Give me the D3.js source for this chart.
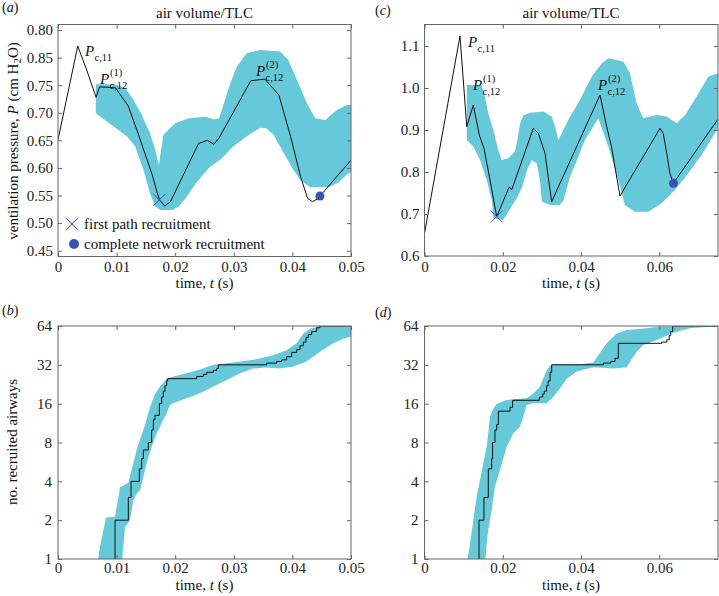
<!DOCTYPE html>
<html>
<head>
<meta charset="utf-8">
<script src="https://cdn.jsdelivr.net/npm/d3@7"></script>
<style>
  body { margin: 0; background: #fff; }
  svg { display: block; font-family: "Liberation Serif", "Times New Roman", serif; }
</style>
</head>
<body>
<svg id="chart" width="719" height="596"></svg>
<script>
// ---- panel (a): pressure vs time, [t (s), P]
const lineA = [[0,0.651],[0.00337,0.821],[0.0049,0.7775],[0.0065,0.728],[0.0071,0.747],[0.0098,0.7454],
  [0.012,0.712],[0.01375,0.66],[0.016,0.59],[0.0173,0.542],[0.0182,0.531],[0.0192,0.539],[0.024,0.6446],
  [0.0255,0.65],[0.0266,0.643],[0.02745,0.6537],[0.0329,0.758],[0.0353,0.761],[0.0377,0.732],[0.0397,0.6566],
  [0.0414,0.584],[0.0426,0.5449],[0.0434,0.5388],[0.0443,0.5437],[0.0447,0.549],[0.05,0.614]];
const bandUpperA = [[0.00645,0.7516],[0.0098,0.7516],[0.0115,0.745],[0.0129,0.723],[0.0143,0.696],[0.0157,0.663],
  [0.0166,0.6325],[0.0172,0.605],[0.018,0.66],[0.02,0.681],[0.0223,0.69],[0.0252,0.693],[0.0266,0.688],
  [0.0275,0.69],[0.0283,0.717],[0.0294,0.753],[0.0305,0.7835],[0.0322,0.808],[0.0345,0.8137],[0.0379,0.811],
  [0.0393,0.7956],[0.0408,0.759],[0.0425,0.717],[0.0439,0.69],[0.0456,0.687],[0.0476,0.705],[0.0493,0.714],[0.05,0.714]];
const bandLowerA = [[0.00645,0.699],[0.008,0.687],[0.0103,0.669],[0.0118,0.657],[0.0132,0.6385],[0.0146,0.596],
  [0.0157,0.554],[0.0166,0.53],[0.0175,0.5237],[0.0195,0.5237],[0.0206,0.53],[0.0218,0.545],[0.0235,0.572],
  [0.0258,0.601],[0.0277,0.615],[0.03,0.64],[0.0323,0.658],[0.0345,0.673],[0.0355,0.672],[0.0368,0.66],
  [0.0385,0.627],[0.0402,0.596],[0.0413,0.579],[0.043,0.565],[0.0462,0.565],[0.0478,0.573],[0.0493,0.588],[0.05,0.592]];
const firstPathA = [0.0173, 0.542];
const completeA = [0.0447, 0.549];

// ---- panel (c): pressure vs time
const lineC = [[0,0.654],[0.00907,1.124],[0.0108,0.908],[0.01247,0.9595],[0.014,0.888],[0.0152,0.8564],
  [0.01674,0.781],[0.01845,0.6937],[0.0206,0.741],[0.02167,0.7647],[0.0223,0.758],[0.0278,0.904],[0.0291,0.892],
  [0.0308,0.8445],[0.0316,0.789],[0.0325,0.7293],[0.04485,0.9833],[0.04655,0.908],[0.0478,0.86],[0.0485,0.8207],
  [0.04995,0.7429],[0.06018,0.904],[0.061,0.892],[0.0619,0.8445],[0.0627,0.797],[0.0636,0.773],[0.075,0.926]];
const bandUpperC = [[0.0108,1.007],[0.0146,1.007],[0.01545,0.979],[0.0163,0.94],[0.0176,0.9],[0.01886,0.852],
  [0.0197,0.8286],[0.0214,0.8325],[0.0231,0.848],[0.0238,0.88],[0.0244,0.915],[0.0253,0.935],[0.027,0.941],
  [0.0304,0.944],[0.0325,0.932],[0.0334,0.908],[0.0342,0.876],[0.0351,0.892],[0.0372,0.932],[0.0393,0.9636],
  [0.041,0.995],[0.0427,1.027],[0.0453,1.059],[0.047,1.071],[0.0508,1.063],[0.0525,1.035],[0.0542,0.9636],
  [0.0559,0.928],[0.0593,0.936],[0.0619,0.932],[0.0644,0.916],[0.0666,0.936],[0.07,0.987],[0.0725,1.027],[0.075,1.035]];
const bandLowerC = [[0.0108,0.876],[0.0125,0.86],[0.0142,0.8286],[0.0159,0.781],[0.0172,0.733],[0.0176,0.69],
  [0.0201,0.686],[0.0214,0.7055],[0.0236,0.738],[0.025,0.765],[0.0262,0.805],[0.0274,0.8286],[0.0287,0.82],
  [0.0295,0.781],[0.03,0.729],[0.0321,0.7214],[0.0346,0.7214],[0.0355,0.733],[0.0372,0.789],[0.0393,0.836],
  [0.041,0.876],[0.0444,0.928],[0.047,0.86],[0.0495,0.781],[0.0512,0.7214],[0.0538,0.7055],[0.0572,0.7055],
  [0.0606,0.7255],[0.064,0.757],[0.0674,0.797],[0.0708,0.8405],[0.0742,0.892],[0.075,0.905]];
const firstPathC = [0.01845, 0.694];
const completeC = [0.0636, 0.773];

// ---- panel (b): recruited airways vs time, [t (s), N]
const stepsB = [[0.00973,1],[0.00973,2],[0.012,3],[0.01246,4],[0.01388,5],[0.01428,6],[0.01456,7],[0.01541,8],
  [0.01598,10],[0.01627,12],[0.01655,13],[0.01729,16],[0.01769,18],[0.01797,20],[0.01826,22],[0.01855,24],
  [0.01871,25],[0.02367,26],[0.0248,27],[0.02537,28],[0.0265,29],[0.02708,30],[0.02736,32],[0.03561,33],
  [0.03732,34],[0.03817,35],[0.03902,37],[0.03988,40],[0.04073,42],[0.0413,45],[0.04187,48],[0.04232,52],
  [0.04271,55],[0.04329,58],[0.04414,62],[0.04471,64],[0.05,64]];
const bandUpperB = [[0.00671,0.9],[0.00717,1.25],[0.00819,2.1],[0.00973,2.13],[0.0103,3.0],[0.0106,3.6],
  [0.012,3.9],[0.01285,5.5],[0.01342,7],[0.01399,8.4],[0.01485,11],[0.0157,15],[0.01655,19],[0.0174,21.6],
  [0.01855,25],[0.01968,26],[0.02196,27.5],[0.02423,29.5],[0.02651,32],[0.0299,33.3],[0.03333,35],[0.03674,38],
  [0.03902,41.5],[0.04073,47],[0.04187,56],[0.043,61],[0.04471,64],[0.05,64]];
const bandLowerB = [[0.01087,0.9],[0.01115,1.25],[0.01143,1.78],[0.01171,1.83],[0.01228,2.0],[0.01285,2.86],
  [0.01342,3.2],[0.01399,3.4],[0.01456,4.35],[0.01513,5.5],[0.01598,7.4],[0.01684,9.4],[0.0174,10.6],
  [0.01797,12],[0.01855,13.5],[0.01911,15.6],[0.01968,16.2],[0.02196,17.6],[0.02423,19.3],[0.02651,21.7],
  [0.02878,24.4],[0.03106,27.5],[0.03333,30],[0.03561,30.5],[0.03788,30],[0.04016,31],[0.04243,34],
  [0.04471,40.5],[0.04698,47],[0.04869,51],[0.05,53]];

// ---- panel (d): recruited airways vs time
const stepsD = [[0.01393,1],[0.01393,2],[0.0152,3],[0.0163,5],[0.01717,6],[0.0174,8],[0.018,10],[0.01845,11],
  [0.01887,14],[0.02185,15],[0.02253,17],[0.02934,18],[0.0302,19],[0.0306,20],[0.0312,22],[0.0316,24],
  [0.0321,28],[0.0325,32],[0.0457,33],[0.0476,34],[0.0487,36],[0.04953,47],[0.0606,48],[0.0619,50],
  [0.06256,54],[0.06291,58],[0.06342,64],[0.075,64]];
const bandUpperD = [[0.0108,0.9],[0.01163,1.32],[0.01248,2],[0.01333,3.04],[0.01418,4.1],[0.01503,5.5],
  [0.01589,7.4],[0.01674,12.7],[0.01758,14.7],[0.01845,15.9],[0.021,17.1],[0.02611,17.6],[0.0278,19.2],
  [0.02951,21.7],[0.03122,29],[0.0325,32.4],[0.03973,32.4],[0.04313,33.3],[0.04656,47],[0.04911,56],
  [0.05167,59.5],[0.05678,61.5],[0.06018,63.3],[0.075,64]];
const bandLowerD = [[0.01546,0.9],[0.01589,1.32],[0.0163,1.68],[0.01717,2.4],[0.018,3.64],[0.01929,4.9],
  [0.021,7.4],[0.02269,9.4],[0.0244,10.6],[0.02525,12.7],[0.02611,15.6],[0.0278,16.1],[0.03122,16.1],
  [0.0329,18],[0.03462,21],[0.03633,25],[0.03889,28.4],[0.04313,30.6],[0.04825,30],[0.05167,30.6],
  [0.05251,33.7],[0.05422,40.5],[0.05592,45.5],[0.05933,49.8],[0.06358,56.7],[0.06784,61.5],[0.072,63],[0.075,63.5]];

// ---- ticks
const xTicksA = [0, 0.01, 0.02, 0.03, 0.04, 0.05];
const xTicksC = [0, 0.02, 0.04, 0.06];
const yTicksA = [0.45, 0.50, 0.55, 0.60, 0.65, 0.70, 0.75, 0.80, 0.85];
const yTickLabelsA = ["0.45", "0.50", "0.55", "0.60", "0.65", "0.70", "0.75", "0.85", "0.80"];
const yTicksC = [0.6, 0.7, 0.8, 0.9, 1.0, 1.1];
const yTicksLog = [1, 2, 4, 8, 16, 32, 64];

const svg = d3.select("#chart");
const bandColor = "#66c9d9";
const frameColor = "#666";
const markerColor = "#3a52b4";

const xFmt = d => d === 0 ? "0" : d3.format(".2f")(d);

// Draws the boxed frame with inward ticks on all four sides
function drawFrame(id, x, y, xTicks, xFormat, yTicks, yFormat, yPad, xPad) {
  const [l, r] = x.range();
  const [b, t] = y.range();
  const g = svg.append("g").attr("id", id);

  g.append("clipPath").attr("id", "clip-" + id)
    .append("rect").attr("x", l).attr("y", t).attr("width", r - l).attr("height", b - t);

  const plot = g.append("g").attr("clip-path", `url(#clip-${id})`);

  const axes = g.append("g").attr("font-size", 15).attr("font-family", "Liberation Serif, serif");
  const style = sel => {
    sel.select(".domain").remove();
    sel.selectAll(".tick line").attr("stroke", frameColor);
    sel.selectAll("text").attr("fill", "#222").attr("font-family", "Liberation Serif, serif").attr("font-size", 15);
  };
  axes.append("g").attr("transform", `translate(0,${b})`)
    .call(d3.axisBottom(x).tickValues(xTicks).tickSize(-4).tickPadding(xPad).tickFormat(xFormat)).call(style);
  axes.append("g").attr("transform", `translate(0,${t})`)
    .call(d3.axisTop(x).tickValues(xTicks).tickSize(-4).tickFormat("")).call(style);
  axes.append("g").attr("transform", `translate(${l},0)`)
    .call(d3.axisLeft(y).tickValues(yTicks).tickSize(-4).tickPadding(yPad).tickFormat(yFormat)).call(style);
  axes.append("g").attr("transform", `translate(${r},0)`)
    .call(d3.axisRight(y).tickValues(yTicks).tickSize(-4).tickFormat("")).call(style);

  g.append("rect").attr("x", l).attr("y", t).attr("width", r - l).attr("height", b - t)
    .attr("fill", "none").attr("stroke", frameColor).attr("stroke-width", 1);
  return plot;
}

function drawBand(plot, x, y, upper, lower) {
  const pts = upper.concat(lower.slice().reverse());
  plot.append("path")
    .attr("d", d3.line().x(d => x(d[0])).y(d => y(d[1]))(pts) + "Z")
    .attr("fill", bandColor).attr("stroke", "none");
}

function drawLine(plot, x, y, data, curve) {
  plot.append("path")
    .attr("d", d3.line().curve(curve).x(d => x(d[0])).y(d => y(d[1]))(data))
    .attr("fill", "none").attr("stroke", "#111").attr("stroke-width", 1)
    .attr("stroke-linejoin", "round");
}

function crossMarker(g, cx, cy) {
  g.append("path").attr("d", d3.symbol(d3.symbolX, 96)())
    .attr("transform", `translate(${cx},${cy})`)
    .attr("fill", "none").attr("stroke", markerColor).attr("stroke-width", 1);
}
function dotMarker(g, cx, cy, r) {
  g.append("circle").attr("cx", cx).attr("cy", cy).attr("r", r).attr("fill", markerColor);
}

// P with subscript and optional superscript
function pLabel(x0, y0, sub, sup) {
  const g = svg.append("g").attr("fill", "#111");
  g.append("text").attr("x", x0).attr("y", y0).attr("font-size", 15).attr("font-style", "italic").text("P");
  g.append("text").attr("x", x0 + 9.5).attr("y", y0 + 4.5).attr("font-size", 10.5).text(sub);
  if (sup) g.append("text").attr("x", x0 + 10).attr("y", y0 - 8).attr("font-size", 10.5).text(sup);
}

function text(x0, y0, str, opts = {}) {
  return svg.append("text").attr("x", x0).attr("y", y0)
    .attr("font-size", opts.size || 15).attr("text-anchor", opts.anchor || "start")
    .attr("fill", "#111").text(str);
}

// ---------------- panel (a)
const xA = d3.scaleLinear().domain([0, 0.05]).range([58, 351]);
const yA = d3.scaleLinear().domain([0.4395, 0.86]).range([256.5, 24.5]);
const plotA = drawFrame("pa", xA, yA, xTicksA, xFmt, yTicksA, (d, i) => yTickLabelsA[i], 5, 5);
drawBand(plotA, xA, yA, bandUpperA, bandLowerA);
drawLine(plotA, xA, yA, lineA, d3.curveLinear);
crossMarker(plotA, xA(firstPathA[0]), yA(firstPathA[1]));
dotMarker(plotA, xA(completeA[0]), yA(completeA[1]), 4.5);

// ---------------- panel (c)
const xC = d3.scaleLinear().domain([0, 0.075]).range([424.5, 718]);
const yC = d3.scaleLinear().domain([0.6, 1.1512]).range([256, 24.5]);
const plotC = drawFrame("pc", xC, yC, xTicksC, xFmt, yTicksC, d3.format(".1f"), 5, 5);
drawBand(plotC, xC, yC, bandUpperC, bandLowerC);
drawLine(plotC, xC, yC, lineC, d3.curveLinear);
crossMarker(plotC, xC(firstPathC[0]), yC(firstPathC[1]));
dotMarker(plotC, xC(completeC[0]), yC(completeC[1]), 4.5);

// ---------------- panel (b)
const xB = d3.scaleLinear().domain([0, 0.05]).range([58, 351]);
const yB = d3.scaleLog().base(2).domain([1, 64]).range([559, 326]);
const plotB = drawFrame("pb", xB, yB, xTicksA, xFmt, yTicksLog, d => d, 6, 3);
drawBand(plotB, xB, yB, bandUpperB, bandLowerB);
drawLine(plotB, xB, yB, stepsB, d3.curveStepAfter);

// ---------------- panel (d)
const xD = d3.scaleLinear().domain([0, 0.075]).range([424.5, 718]);
const yD = d3.scaleLog().base(2).domain([1, 64]).range([559, 326]);
const plotD = drawFrame("pd", xD, yD, xTicksC, xFmt, yTicksLog, d => d, 6, 3);
drawBand(plotD, xD, yD, bandUpperD, bandLowerD);
drawLine(plotD, xD, yD, stepsD, d3.curveStepAfter);

// ---------------- titles, axis labels, panel letters
text(204.5, 18, "air volume/TLC", {anchor: "middle"});
text(571, 18, "air volume/TLC", {anchor: "middle"});

[[204.5, 288], [571, 288], [204.5, 590], [571, 590]].forEach(([cx, cy]) => {
  const t = text(cx, cy, "time, ", {anchor: "middle"});
  t.append("tspan").attr("font-style", "italic").text("t");
  t.append("tspan").text(" (s)");
});

const yl = svg.append("text").attr("transform", "translate(18,141) rotate(-90)")
  .attr("text-anchor", "middle").attr("font-size", 15).attr("fill", "#111");
yl.append("tspan").text("ventilation pressure, ");
yl.append("tspan").attr("font-style", "italic").text("P");
yl.append("tspan").text(" (cm H");
yl.append("tspan").attr("font-size", 11).attr("dy", 3).text("2");
yl.append("tspan").attr("dy", -3).text("O)");

svg.append("text").attr("transform", "translate(17,442) rotate(-90)")
  .attr("text-anchor", "middle").attr("font-size", 15).attr("fill", "#111")
  .text("no. recruited airways");

[["a", 2, 12], ["c", 375, 15], ["b", 2, 315], ["d", 375, 317]].forEach(([k, px, py]) => {
  const t = text(px, py, "(", {size: 14});
  t.append("tspan").attr("font-style", "italic").text(k);
  t.append("tspan").text(")");
});

// ---------------- annotations
pLabel(85, 56, "c,11");
pLabel(100, 84, "c,12", "(1)");
pLabel(256, 76, "c,12", "(2)");
pLabel(468, 47, "c,11");
pLabel(473, 90, "c,12", "(1)");
pLabel(598, 90, "c,12", "(2)");

// ---------------- legend in (a)
crossMarker(svg, 72, 224);
text(84, 229, "first path recruitment", {size: 15});
dotMarker(svg, 74, 244, 5);
text(84, 249, "complete network recruitment", {size: 15});
</script>
</body>
</html>
